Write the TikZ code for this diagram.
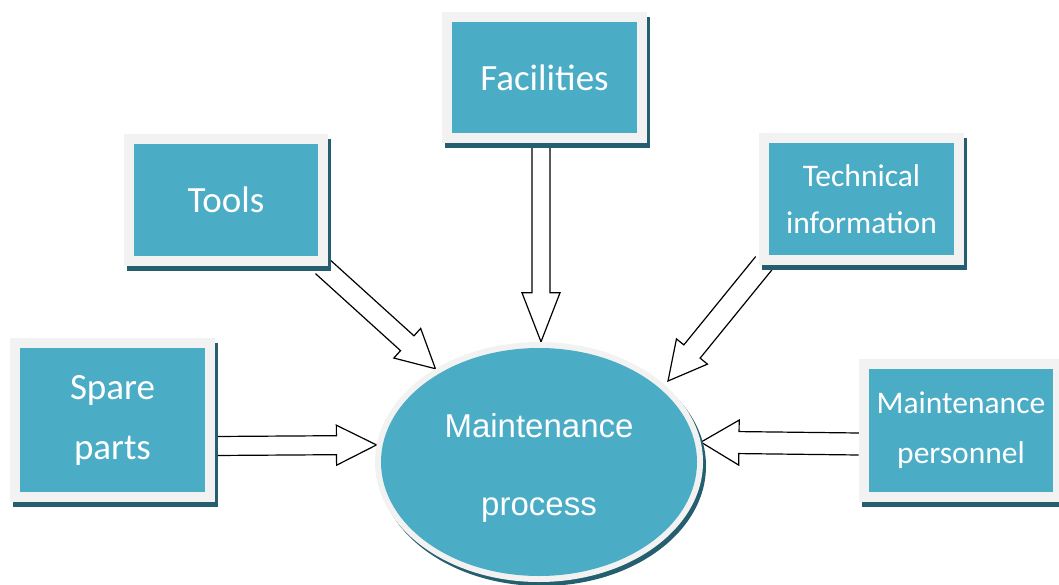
\documentclass[tikz,border=0pt]{standalone}
\usepackage{fontspec}
\setmainfont{Carlito}
\newfontfamily\arialf{Liberation Sans}
\usetikzlibrary{shapes.geometric,shadows,calc,backgrounds}
\definecolor{aqua}{HTML}{4BACC6}
\definecolor{framegray}{HTML}{F2F2F2}
\definecolor{shadowc}{HTML}{255E6E}
\tikzset{
  panel/.style={rectangle, fill=framegray, draw=none, text=white, align=center, inner sep=0pt,
    drop shadow={shadow xshift=2.5pt, shadow yshift=-5pt, fill=shadowc, opacity=1},
    path picture={\fill[aqua] ([shift={(10pt,-10pt)}]path picture bounding box.north west) rectangle ([shift={(-10pt,10pt)}]path picture bounding box.south east);}},
  blockarrow/.style={draw=black, fill=white, line width=1.2pt}
}
% start, tip, half shaft, half head, head length
\newcommand\blockarr[5]{%
  \coordinate (hb) at ($(#2)!#5!(#1)$);
  \path[blockarrow] ($(#1)!#3!90:(#2)$) -- ($(hb)!#3!90:(#2)$) -- ($(hb)!#4!90:(#2)$) -- (#2)
     -- ($(hb)!#4!-90:(#2)$) -- ($(hb)!#3!-90:(#2)$) -- ($(#1)!#3!-90:(#2)$);}
\begin{document}
\begin{tikzpicture}[x=1pt,y=-1pt]
\useasboundingbox (0,0) rectangle (1059,585);
\node[panel, minimum width=205pt, minimum height=164pt, font=\fontsize{37}{60}\selectfont] (spare) at (112.5,420) {Spare\\parts};
\node[panel, minimum width=204pt, minimum height=132pt, font=\fontsize{37}{60}\selectfont] (tools) at (226,200) {Tools};
\node[panel, minimum width=205pt, minimum height=131pt, font=\fontsize{37}{60}\selectfont] (fac) at (544.5,77.5) {Facilities};
\node[panel, minimum width=205pt, minimum height=132pt, font=\fontsize{31.5}{47}\selectfont] (tech) at (861.5,199) {Technical\\information};
\node[panel, minimum width=204pt, minimum height=143pt, font=\fontsize{31.5}{50}\selectfont] (pers) at (961,430) {Maintenance\\personnel};
\node[ellipse, minimum width=328pt, minimum height=240pt, inner sep=0pt, fill=framegray,
  drop shadow={shadow xshift=3pt, shadow yshift=-4pt, fill=shadowc, opacity=1},
  path picture={\fill[aqua] (path picture bounding box.center) ellipse [x radius=158pt, y radius=114pt];},
  text=white, align=center, font=\arialf\fontsize{33}{78}\selectfont] (proc) at (539,462) {\rule{0pt}{35pt}Maintenance\\process};
\begin{pgfonlayer}{background}
\coordinate (s1) at ($(spare.east)+(0,26)$);
\coordinate (s2) at ($(tools.south east)+(-6,0)$);
\coordinate (s3) at ($(fac.south)+(-3.5,0)$);
\coordinate (s4) at ($(tech.south west)+(5,-2)$);
\coordinate (s5) at ($(pers.west)+(0,14)$);
\coordinate (t3) at ($(proc.north)+(2,0)$);
\coordinate (t4) at ($(proc.center)+(129,-81)$);
\blockarr{s1}{proc.174}{9.5pt}{20pt}{40pt}
\blockarr{s2}{proc.138}{10pt}{20pt}{38pt}
\blockarr{s3}{t3}{9pt}{19pt}{49pt}
\blockarr{s4}{t4}{10.5pt}{20pt}{38pt}
\blockarr{s5}{proc.7}{11pt}{22.5pt}{38pt}
\end{pgfonlayer}
\end{tikzpicture}
\end{document}
